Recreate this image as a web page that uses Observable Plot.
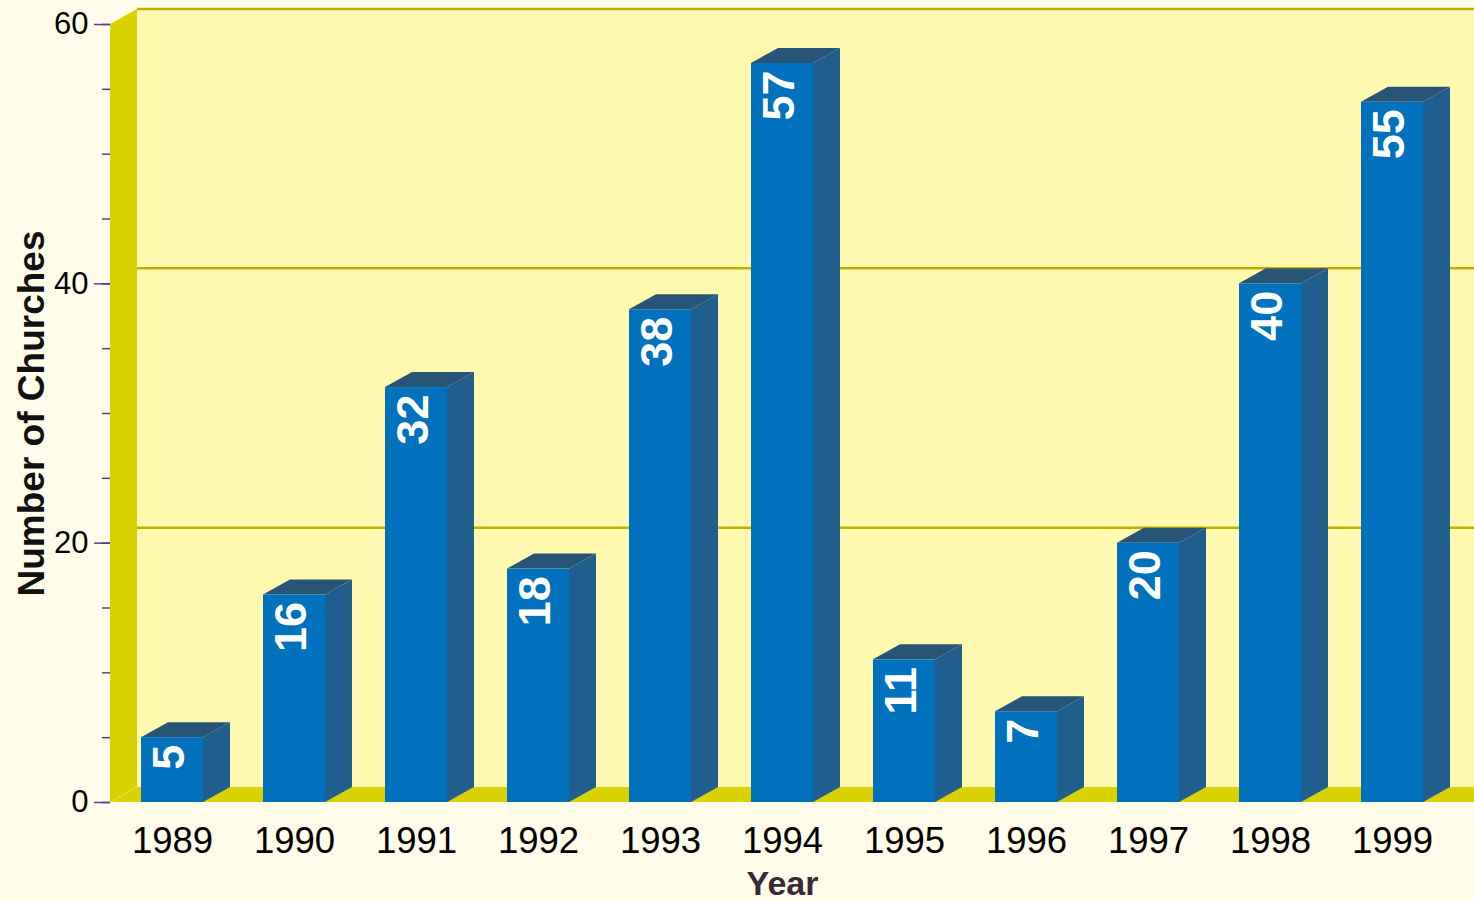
<!DOCTYPE html>
<html>
<head>
<meta charset="utf-8">
<script src="https://cdn.jsdelivr.net/npm/d3@7"></script>
<script src="https://cdn.jsdelivr.net/npm/@observablehq/plot@0.6"></script>
<style>
  html, body { margin: 0; padding: 0; background: #fffce9; }
  #chart svg { display: block; }
</style>
</head>
<body>
<div id="chart"></div>
<script>
// ---- data ----
const years = ["1989", "1990", "1991", "1992", "1993", "1994", "1995", "1996", "1997", "1998", "1999"];
const counts = [5, 16, 32, 18, 38, 57, 11, 7, 20, 40, 54];
const barLabels = ["5", "16", "32", "18", "38", "57", "11", "7", "20", "40", "55"];
const yMajorTicks = [0, 20, 40, 60];
const yMinorTicks = [0, 5, 10, 15, 20, 25, 30, 35, 40, 45, 50, 55, 60];
const gridValues = [20, 40, 60];

const data = years.map((year, i) => ({year, count: counts[i], label: barLabels[i]}));

// ---- style ----
const DX = 27, DY = -15;           // 3D depth offset
const FONT = "'Liberation Sans', Arial, Helvetica, sans-serif";
const C = {
  backWall: "#fff9af",
  wall: "#d9d100",
  grid: "#bfb000",
  front: "#0071bc",
  side: "#205e8e",
  top: "#285476",
  tick: "#5a3898"
};

function svgEl(tag) {
  return document.createElementNS("http://www.w3.org/2000/svg", tag);
}
function poly(g, pts, fill) {
  const p = svgEl("path");
  p.setAttribute("d", "M" + pts.map(q => q.join(",")).join("L") + "Z");
  p.setAttribute("fill", fill);
  g.appendChild(p);
  return p;
}

// walls, floor and back-wall gridlines, positioned through the y scale
function renderWalls(index, scales, values, dim) {
  const g = svgEl("g");
  const y = scales.y;
  const x0 = dim.marginLeft, x1 = dim.width;
  const yT = y(60), yB = y(0);
  poly(g, [[x0 + DX, yT + DY], [x1 + DX, yT + DY], [x1 + DX, yB + DY], [x0 + DX, yB + DY]], C.backWall);
  for (const v of gridValues) {
    const l = svgEl("line");
    l.setAttribute("x1", x0 + DX); l.setAttribute("x2", x1 + DX);
    l.setAttribute("y1", y(v) + DY); l.setAttribute("y2", y(v) + DY);
    l.setAttribute("stroke", C.grid); l.setAttribute("stroke-width", 2.5);
    g.appendChild(l);
  }
  poly(g, [[x0, yT], [x0 + DX, yT + DY], [x0 + DX, yB + DY], [x0, yB]], C.wall);
  poly(g, [[x0, yB], [x0 + DX, yB + DY], [x1 + DX, yB + DY], [x1, yB]], C.wall);
  const e = svgEl("line");
  e.setAttribute("x1", x0); e.setAttribute("y1", yB);
  e.setAttribute("x2", x0 + DX); e.setAttribute("y2", yB + DY);
  e.setAttribute("stroke", "#e6df55"); e.setAttribute("stroke-width", 1);
  g.appendChild(e);
  return g;
}

// side and top faces of each bar, from the bar's scaled channels
function renderFaces(index, scales, values) {
  const g = svgEl("g");
  const bw = typeof scales.x.bandwidth === "function" ? scales.x.bandwidth() : scales.x.bandwidth;
  for (const i of index) {
    const xl = values.x ? values.x[i] : scales.x(data[i].year);
    const xr = xl + bw;
    const a = values.y1 ? values.y1[i] : scales.y(0);
    const b = values.y2 ? values.y2[i] : scales.y(data[i].count);
    const yt = Math.min(a, b), yb = Math.max(a, b);
    poly(g, [[xr, yt], [xr + DX, yt + DY], [xr + DX, yb + DY], [xr, yb]], C.side);
    poly(g, [[xl, yt], [xl + DX, yt + DY], [xr + DX, yt + DY], [xr, yt]], C.top);
  }
  return g;
}

const chart = Plot.plot({
  width: 1474,
  height: 901,
  marginLeft: 110,
  marginRight: 20,
  marginTop: 24,
  marginBottom: 99,
  style: {background: "transparent", fontFamily: FONT, color: "black", overflow: "visible"},
  x: {domain: years, paddingInner: 0.49, paddingOuter: 0.245},
  y: {domain: [0, 60]},
  marks: [
    Plot.frame({stroke: "none", render: renderWalls}),
    Plot.barY(data, {x: "year", y: "count", fill: C.front, render: renderFaces}),
    Plot.barY(data, {x: "year", y: "count", fill: C.front}),
    Plot.text(data, {
      x: "year", y: "count", text: "label",
      rotate: -90, textAnchor: "end", lineAnchor: "middle",
      fill: "white", fontSize: 45, fontWeight: "bold", dy: 7, dx: -3
    }),
    Plot.axisY({ticks: yMinorTicks, tickSize: 8, tickFormat: () => "", label: null, stroke: C.tick, strokeWidth: 1.5}),
    Plot.axisY({ticks: yMajorTicks, tickSize: 16, tickPadding: 6, fontSize: 31, label: null, stroke: C.tick, strokeWidth: 1.5, fill: "black"}),
    Plot.axisX({tickSize: 0, tickPadding: 25, fontSize: 36.5, label: null, fill: "black"}),
    Plot.text(["Year"], {frameAnchor: "bottom", textAnchor: "middle", lineAnchor: "bottom", dy: 92, fontSize: 34, fontWeight: "bold", fill: "#382838", text: d => d}),
    Plot.text(["Number of Churches"], {frameAnchor: "left", textAnchor: "middle", lineAnchor: "bottom", rotate: -90, dx: -67, fontSize: 37, fontWeight: "bold", fill: "#111111", text: d => d})
  ]
});
document.getElementById("chart").appendChild(chart);
</script>
</body>
</html>
